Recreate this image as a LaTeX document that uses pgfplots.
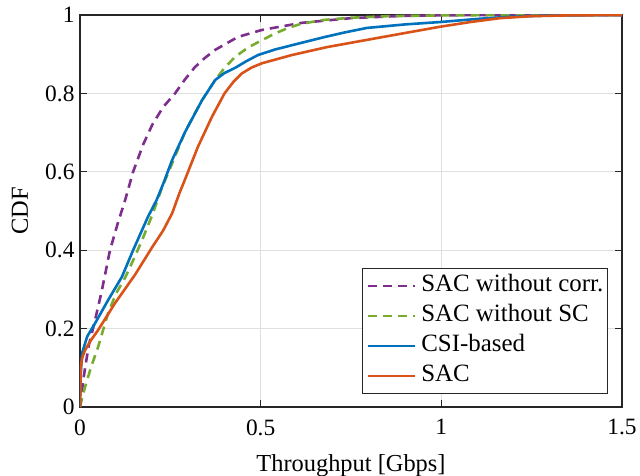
\documentclass[border=0pt]{standalone}
\usepackage{pgfplots}
\pgfplotsset{compat=1.18}
\usepackage{fontspec}
\setmainfont{Liberation Serif}
\definecolor{mblue}{rgb}{0,0.447,0.741}
\definecolor{morange}{rgb}{0.85,0.325,0.098}
\definecolor{mpurple}{rgb}{0.494,0.184,0.556}
\definecolor{mgreen}{rgb}{0.466,0.674,0.188}
\definecolor{axgray}{rgb}{0.15,0.15,0.15}
\begin{document}
\begin{tikzpicture}
\begin{axis}[
    scale only axis,
    width=542bp, height=392bp,
    xmin=0, xmax=1.5, ymin=0, ymax=1,
    xtick={0,0.5,1,1.5},
    ytick={0,0.2,0.4,0.6,0.8,1},
    xticklabels={0,0.5,1,1.5},
    yticklabels={0,0.2,0.4,0.6,0.8,1},
    ticklabel style={font=\fontsize{23.5}{27}\selectfont},
    xticklabel style={yshift=-9bp},
    yticklabel style={xshift=-2bp},
    /pgf/number format/assume math mode=true,
    tick align=inside,
    major tick length=7bp,
    tick style={axgray, line width=1.2bp},
    axis line style={axgray, line width=1.6bp},
    grid=major,
    grid style={gray!25, line width=1.3bp},
    xlabel={Throughput [Gbps]},
    ylabel={CDF},
    label style={font=\fontsize{24.5}{29}\selectfont},
    xlabel style={at={(rel axis cs:0.5,0)}, anchor=base, yshift=-64bp},
    ylabel style={at={(rel axis cs:0,0.5)}, anchor=base, yshift=52bp},
    legend cell align={left},
    legend style={draw=axgray, line width=1.2bp, at={(0.974,0.033)}, anchor=south east,
        inner xsep=4bp, inner ysep=6.5bp, row sep=8bp, column sep=5bp,
        nodes={inner sep=0pt, text height=17bp, text depth=5bp},
        font=\fontsize{25}{29}\selectfont},
    legend image code/.code={\draw[#1] (0bp,0bp) -- (47bp,0bp);},
    every axis plot/.append style={line width=2.6bp},
]
\addplot[mpurple, dash pattern=on 9bp off 6bp] coordinates {
(0,0) (0.005,0.04) (0.014,0.10) (0.025,0.16) (0.04,0.215) (0.06,0.295)
(0.083,0.40) (0.105,0.47) (0.125,0.528) (0.147,0.60) (0.175,0.67)
(0.2,0.72) (0.23,0.765) (0.263,0.80) (0.29,0.835) (0.318,0.867)
(0.345,0.89) (0.374,0.911) (0.437,0.944) (0.504,0.962) (0.614,0.98)
(0.75,0.992) (0.9,0.998) (1.1,1.0) (1.5,1.0)
};
\addlegendentry{SAC without corr.}
\addplot[mgreen, dash pattern=on 9bp off 6bp] coordinates {
(0,0) (0.005,0.02) (0.014,0.051) (0.03,0.10) (0.05,0.153) (0.078,0.24)
(0.1,0.29) (0.125,0.33) (0.15,0.38) (0.172,0.426) (0.2,0.49) (0.227,0.56)
(0.244,0.597) (0.27,0.655) (0.29,0.70) (0.315,0.745) (0.338,0.783)
(0.374,0.834) (0.4,0.865) (0.429,0.893) (0.465,0.917) (0.504,0.936)
(0.54,0.953) (0.576,0.967) (0.61,0.977) (0.67,0.987) (0.75,0.993)
(0.85,0.997) (1.0,0.999) (1.2,1.0) (1.5,1.0)
};
\addlegendentry{SAC without SC}
\addplot[mblue] coordinates {
(0,0) (0.001,0.05) (0.003,0.1) (0.006,0.138) (0.02,0.18) (0.042,0.214)
(0.078,0.273) (0.116,0.332) (0.147,0.40) (0.188,0.485) (0.212,0.528)
(0.231,0.571) (0.255,0.63) (0.29,0.70) (0.338,0.783) (0.374,0.834)
(0.40,0.852) (0.429,0.865) (0.46,0.882) (0.493,0.898) (0.54,0.912)
(0.587,0.923) (0.63,0.933) (0.678,0.944) (0.73,0.955) (0.794,0.967)
(0.9,0.976) (0.996,0.982) (1.1,0.99) (1.18,0.995) (1.3,0.999) (1.5,1.0)
};
\addlegendentry{CSI-based}
\addplot[morange] coordinates {
(0,0) (0.001,0.05) (0.002,0.1) (0.006,0.125) (0.014,0.145) (0.03,0.17)
(0.05,0.196) (0.097,0.265) (0.152,0.337) (0.2,0.408) (0.23,0.45)
(0.255,0.494) (0.275,0.545) (0.29,0.579) (0.326,0.663) (0.365,0.74)
(0.40,0.80) (0.425,0.83) (0.448,0.851) (0.475,0.866) (0.504,0.877)
(0.587,0.898) (0.683,0.918) (0.839,0.944) (0.996,0.97) (1.08,0.982)
(1.163,0.992) (1.25,0.997) (1.35,0.999) (1.5,1.0)
};
\addlegendentry{SAC}
\end{axis}
\pgfresetboundingbox
\path[use as bounding box] ([xshift=-80bp,yshift=-69bp]current axis.south west)
    rectangle ([xshift=18bp,yshift=15bp]current axis.north east);
\end{tikzpicture}
\end{document}
